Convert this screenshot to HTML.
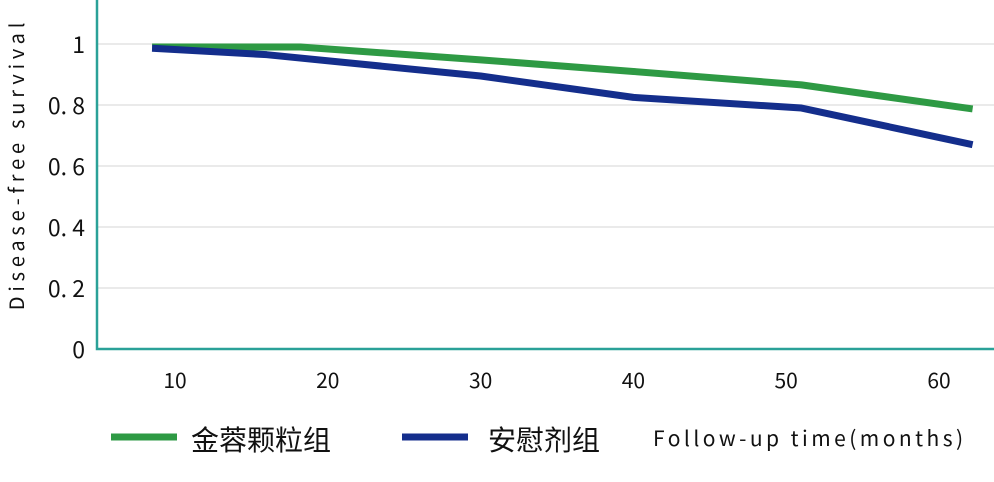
<!DOCTYPE html>
<html><head><meta charset="utf-8"><style>
html,body{margin:0;padding:0;background:#fff;width:994px;height:482px;overflow:hidden}
text{font-family:"Noto Sans CJK SC","Liberation Sans",sans-serif;fill:#111}
</style></head><body>
<svg id="chart" width="994" height="482" xmlns="http://www.w3.org/2000/svg"></svg>
<script>
const xTicks=[10,20,30,40,50,60];
const yTicks=[0,0.2,0.4,0.6,0.8,1];
const yTickLabels=["0","0. 2","0. 4","0. 6","0. 8","1"];
const greenX=[8.5,18.2,30,40,51,62.2];
const greenY=[0.99,0.99,0.948,0.91,0.866,0.787];
const blueX=[8.5,16,30,40,51,62.2];
const blueY=[0.986,0.965,0.895,0.825,0.79,0.67];
const svg=document.getElementById('chart');
const NS='http://www.w3.org/2000/svg';
function xs(v){return 175+(v-10)*15.28;}
function ys(v){return 349-v*305;}
function mk(tag,attrs,parent){const e=document.createElementNS(NS,tag);for(const k in attrs)e.setAttribute(k,attrs[k]);(parent||svg).appendChild(e);return e;}
yTicks.forEach((t,i)=>{
  if(t>0){const g=mk('line',{x1:98,x2:994,y1:ys(t),y2:ys(t),stroke:'#e3e3e3','stroke-width':1.5});
  
  }
  const l=mk('text',{x:85,y:ys(t)+9,'text-anchor':'end','font-size':23});
  l.textContent=yTickLabels[i];
  
  
});
xTicks.forEach(t=>{
  const l=mk('text',{x:xs(t),y:388,'text-anchor':'middle','font-size':21});
  l.textContent=t;
  
  
});
const ax=mk('path',{d:'M97,0 V349 H994',fill:'none',stroke:'#2aa198','stroke-width':2.5});


function series(X,Y,color,name){
  const p=mk('polyline',{points:X.map((x,i)=>xs(x)+','+ys(Y[i])).join(' '),fill:'none',stroke:color,'stroke-width':7,'stroke-linejoin':'round'});
  
  
}
series(greenX,greenY,'#2e9a44','series-jinrong-granules');
series(blueX,blueY,'#142e8c','series-placebo');
const yt=mk('text',{x:0,y:0,transform:'translate(24,164) rotate(-90)','text-anchor':'middle','font-size':20,'letter-spacing':'4.8'});
yt.textContent='Disease-free survival';


const lg1=mk('line',{x1:111,x2:177,y1:437,y2:437,stroke:'#2e9a44','stroke-width':7});


const lt1=mk('text',{x:191,y:450,'font-size':28});
lt1.textContent='金蓉颗粒组';


const lg2=mk('line',{x1:402,x2:468,y1:437,y2:437,stroke:'#142e8c','stroke-width':7});


const lt2=mk('text',{x:488,y:450,'font-size':28});
lt2.textContent='安慰剂组';


const xt=mk('text',{x:653,y:446,'font-size':21,'letter-spacing':'3.45'});
xt.textContent='Follow-up time(months)';


</script>
</body></html>
